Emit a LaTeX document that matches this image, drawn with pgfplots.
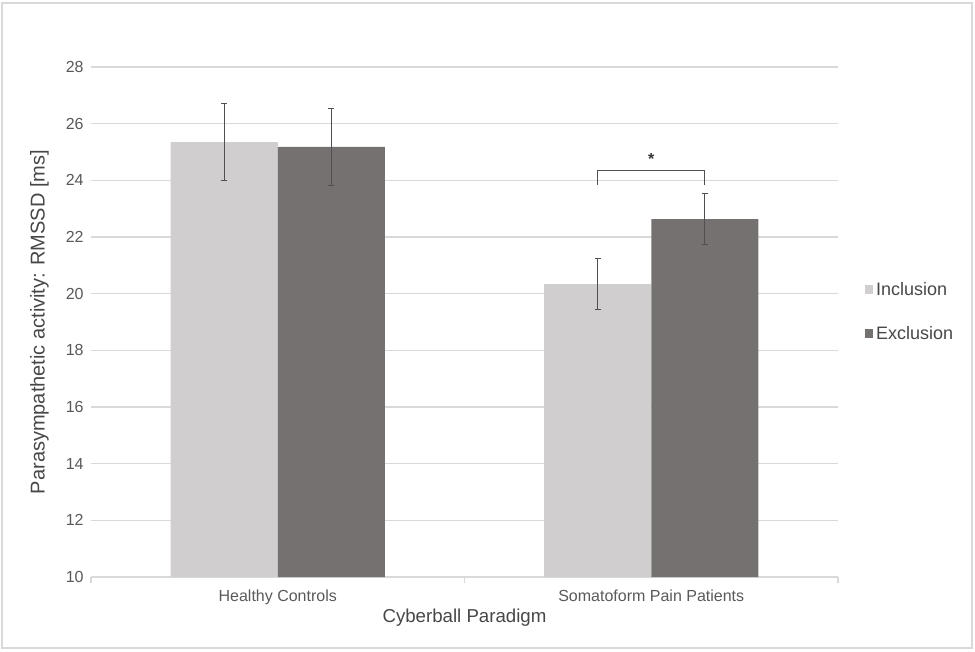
\documentclass[border=0pt]{standalone}
\usepackage{pgfplots}
\pgfplotsset{compat=1.18}
\usepackage{fontspec}
\setmainfont{Liberation Sans}
\definecolor{incl}{HTML}{D0CECE}
\definecolor{excl}{HTML}{767171}
\definecolor{gridc}{HTML}{D9D9D9}
\definecolor{txt}{HTML}{595959}
\definecolor{errc}{HTML}{505050}
\begin{document}
\begin{tikzpicture}[x=0.75pt,y=0.75pt]
\useasboundingbox (0,0) rectangle (975,651);
\draw[gridc, line width=1.2pt] (2,3) rectangle (972,648);
\begin{axis}[
    at={(91*0.75pt,74*0.75pt)}, anchor=south west,
    scale only axis,
    width=747*0.75pt, height=510*0.75pt,
    ybar=0pt, bar width=0.2865,
    xmin=-0.5, xmax=1.5,
    ymin=10, ymax=28,
    ytick={10,12,...,28},
    xtick={0,1},
    xticklabels={Healthy Controls, Somatoform Pain Patients},
    minor xtick={-0.5,0.5,1.5},
    major x tick style={draw=none},
    minor x tick style={gridc, line width=0.9pt},
    minor tick length=4.5pt,
    xtick align=outside,
    ytick style={draw=none},
    ymajorgrids, grid style={gridc, line width=0.9pt},
    axis lines*=left,
    x axis line style={gridc, line width=0.9pt, -},
    y axis line style={draw=none},
    /pgf/number format/assume math mode=true,
    tick label style={font=\fontsize{12}{14}\selectfont, text=txt},
    yticklabel style={xshift=-2pt},
    xticklabel style={font=\fontsize{12}{14}\selectfont, text=txt, yshift=-2pt},
    xlabel={Cyberball Paradigm},
    ylabel={Parasympathetic activity: RMSSD [ms]},
    label style={font=\fontsize{14}{16}\selectfont, text=txt!80!black},
    xlabel style={yshift=4pt},
    ylabel style={font=\fontsize{15}{17}\selectfont, yshift=6pt},
    legend style={at={(1.03,0.52)}, anchor=west, draw=none, fill=none,
        font=\fontsize{13.5}{16}\selectfont, text=txt!80!black, row sep=18pt,
        legend cell align=left},
    legend image code/.code={\fill[#1] (0pt,-3pt) rectangle (6.5pt,3.5pt);},
    error bars/y dir=both, error bars/y explicit,
    error bars/error mark options={rotate=90, mark size=2.4pt, errc, line width=0.7pt},
    error bars/error bar style={errc, line width=0.7pt},
]
\addplot[fill=incl, draw=none] coordinates {
    (0,25.35) +- (0,1.37)
    (1,20.34) +- (0,0.89)
};
\addplot[fill=excl, draw=none] coordinates {
    (0,25.18) +- (0,1.36)
    (1,22.63) +- (0,0.90)
};
\legend{Inclusion, Exclusion}
\draw[errc, line width=0.7pt] (axis cs:0.857,23.83) -- (axis cs:0.857,24.36) -- (axis cs:1.143,24.36) -- (axis cs:1.143,23.83);
\node[font=\fontsize{12}{14}\selectfont\bfseries, text=black!80] at (axis cs:1.0,24.74) {*};
\end{axis}
\end{tikzpicture}
\end{document}
